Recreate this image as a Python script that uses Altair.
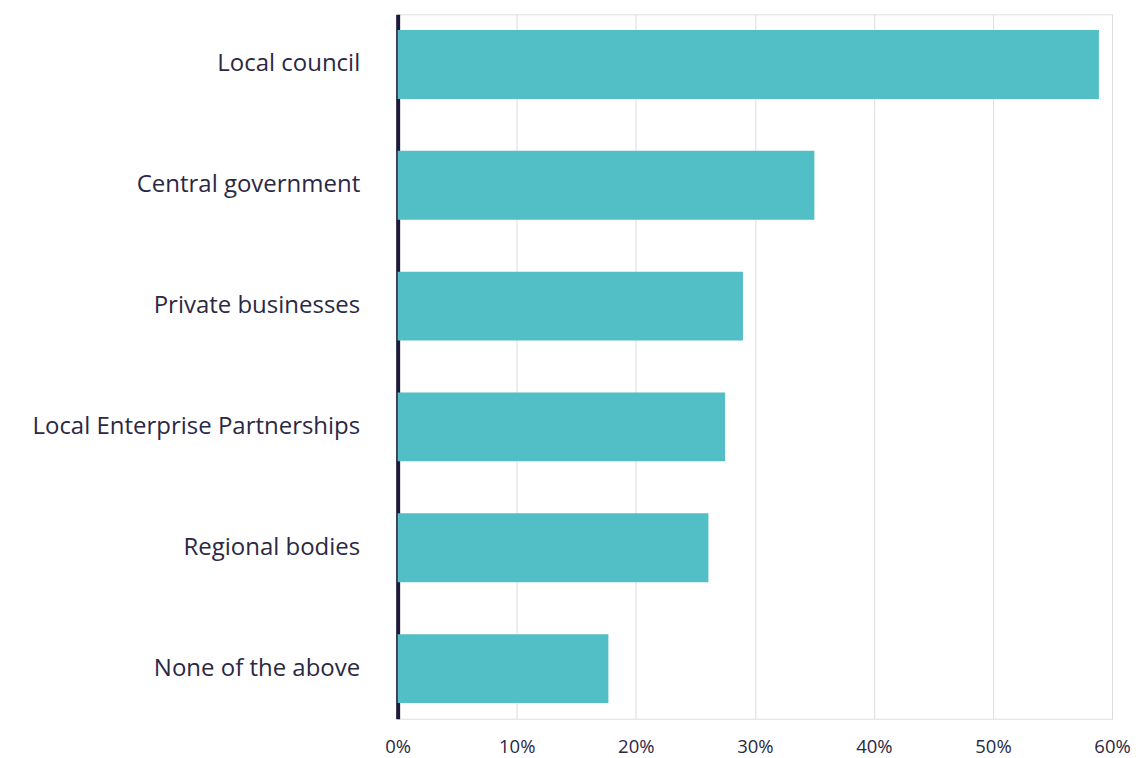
import altair as alt
import pandas as pd

categories = [
    "Local council",
    "Central government",
    "Private businesses",
    "Local Enterprise Partnerships",
    "Regional bodies",
    "None of the above",
]
values = [0.589, 0.35, 0.29, 0.275, 0.261, 0.177]
x_ticks = [0, 0.1, 0.2, 0.3, 0.4, 0.5, 0.6]

df = pd.DataFrame({"category": categories, "value": values})

FONT = "Open Sans"
TEXT = "#2B2845"

chart = (
    alt.Chart(df)
    .mark_bar(color="#52BEC6")
    .encode(
        x=alt.X(
            "value:Q",
            scale=alt.Scale(domain=[0, 0.6], nice=False),
            axis=alt.Axis(
                values=x_ticks,
                format=".0%",
                title=None,
                domain=False,
                ticks=False,
                grid=True,
                gridColor="#DCDCDC",
                gridWidth=1,
                labelFont=FONT,
                labelFontSize=18.5,
                labelColor=TEXT,
                labelPadding=19,
                labelFlush=False,
            ),
        ),
        y=alt.Y(
            "category:N",
            sort=categories,
            scale=alt.Scale(paddingInner=0.43, paddingOuter=0.13),
            axis=alt.Axis(
                title=None,
                ticks=False,
                grid=False,
                domain=True,
                domainColor="#1E1A3C",
                domainWidth=4,
                labelFont=FONT,
                labelFontSize=24,
                labelColor=TEXT,
                labelPadding=38,
                labelLimit=0,
            ),
        ),
    )
    .properties(width=715, height=705, padding={"top": 6, "left": 23, "right": 5, "bottom": 5})
    .configure_view(strokeWidth=0, strokeOpacity=0)
    .configure(background="white")
)

chart.save("out.html", embed_options={"renderer": "svg", "actions": False})
